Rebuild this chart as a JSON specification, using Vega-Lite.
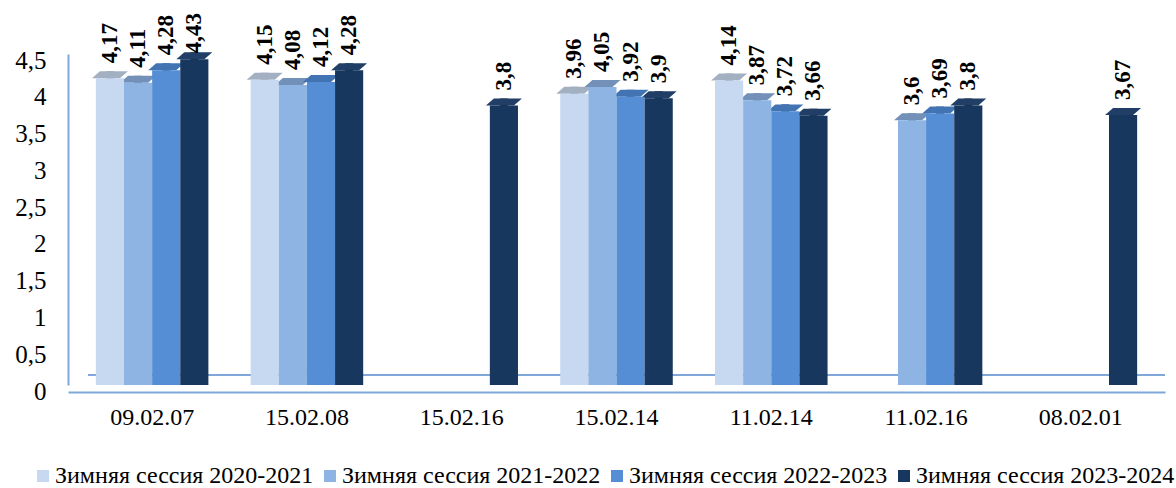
{
  "$schema": "https://vega.github.io/schema/vega-lite/v6.json",
  "width": 1097,
  "height": 331,
  "autosize": {"type": "none"},
  "padding": {"left": 68, "top": 54, "right": 11, "bottom": 103},
  "background": "white",
  "config": {
    "locale": {"number": {"decimal": ",", "thousands": " ", "grouping": [3], "currency": ["", ""]}},
    "view": {"stroke": null},
    "font": "Liberation Serif"
  },
  "data": {
    "values": [
      {"code": "09.02.07", "session": "Зимняя сессия 2020-2021", "score": 4.17},
      {"code": "09.02.07", "session": "Зимняя сессия 2021-2022", "score": 4.11},
      {"code": "09.02.07", "session": "Зимняя сессия 2022-2023", "score": 4.28},
      {"code": "09.02.07", "session": "Зимняя сессия 2023-2024", "score": 4.43},
      {"code": "15.02.08", "session": "Зимняя сессия 2020-2021", "score": 4.15},
      {"code": "15.02.08", "session": "Зимняя сессия 2021-2022", "score": 4.08},
      {"code": "15.02.08", "session": "Зимняя сессия 2022-2023", "score": 4.12},
      {"code": "15.02.08", "session": "Зимняя сессия 2023-2024", "score": 4.28},
      {"code": "15.02.16", "session": "Зимняя сессия 2023-2024", "score": 3.8},
      {"code": "15.02.14", "session": "Зимняя сессия 2020-2021", "score": 3.96},
      {"code": "15.02.14", "session": "Зимняя сессия 2021-2022", "score": 4.05},
      {"code": "15.02.14", "session": "Зимняя сессия 2022-2023", "score": 3.92},
      {"code": "15.02.14", "session": "Зимняя сессия 2023-2024", "score": 3.9},
      {"code": "11.02.14", "session": "Зимняя сессия 2020-2021", "score": 4.14},
      {"code": "11.02.14", "session": "Зимняя сессия 2021-2022", "score": 3.87},
      {"code": "11.02.14", "session": "Зимняя сессия 2022-2023", "score": 3.72},
      {"code": "11.02.14", "session": "Зимняя сессия 2023-2024", "score": 3.66},
      {"code": "11.02.16", "session": "Зимняя сессия 2021-2022", "score": 3.6},
      {"code": "11.02.16", "session": "Зимняя сессия 2022-2023", "score": 3.69},
      {"code": "11.02.16", "session": "Зимняя сессия 2023-2024", "score": 3.8},
      {"code": "08.02.01", "session": "Зимняя сессия 2023-2024", "score": 3.67}
    ]
  },
  "encoding": {
    "x": {
      "field": "code",
      "type": "nominal",
      "sort": ["09.02.07", "15.02.08", "15.02.16", "15.02.14", "11.02.14", "11.02.16", "08.02.01"],
      "scale": {"paddingInner": 0.273, "paddingOuter": 0.18},
      "axis": {
        "title": null,
        "labelAngle": 0,
        "labelFont": "Liberation Serif",
        "labelFontSize": 24,
        "labelColor": "#000000",
        "labelPadding": 13,
        "ticks": false,
        "offset": 7,
        "domainColor": "#7fa7da",
        "domainWidth": 2
      }
    },
    "xOffset": {
      "field": "session",
      "type": "nominal",
      "scale": {"domain": ["Зимняя сессия 2020-2021", "Зимняя сессия 2021-2022", "Зимняя сессия 2022-2023", "Зимняя сессия 2023-2024"]}
    },
    "y": {
      "field": "score",
      "type": "quantitative",
      "scale": {"domain": [0, 4.5], "nice": false},
      "axis": {
        "title": null,
        "values": [0, 0.5, 1, 1.5, 2, 2.5, 3, 3.5, 4, 4.5],
        "format": "~g",
        "grid": false,
        "ticks": false,
        "labelFont": "Liberation Serif",
        "labelFontSize": 25,
        "labelColor": "#000000",
        "labelPadding": 22,
        "labelOffset": 6,
        "domainColor": "#7fa7da",
        "domainWidth": 2
      }
    }
  },
  "layer": [
    {
      "description": "back edge of the floor",
      "mark": {"type": "rule", "color": "#7fa7da", "strokeWidth": 2, "yOffset": -10},
      "encoding": {"x": {"value": 20}, "x2": {"value": 1097}, "y": {"datum": 0}, "xOffset": null}
    },
    {
      "description": "right-hand side faces of the bars",
      "mark": {"type": "bar", "width": 8, "xOffset": 18, "yOffset": -7, "y2Offset": -4},
      "encoding": {
        "y2": {"datum": 0},
        "fill": {
          "field": "session",
          "type": "nominal",
          "scale": {
            "domain": ["Зимняя сессия 2020-2021", "Зимняя сессия 2021-2022", "Зимняя сессия 2022-2023", "Зимняя сессия 2023-2024"],
            "range": ["#8e9aab", "#5d7ba3", "#35609a", "#0f2139"]
          },
          "legend": null
        }
      }
    },
    {
      "description": "top faces of the bars",
      "mark": {
        "type": "point",
        "filled": true,
        "opacity": 1,
        "size": 1296,
        "shape": "M-1,0.194L0.556,0.194L1,-0.194L-0.556,-0.194Z",
        "xOffset": 4,
        "yOffset": -3.5
      },
      "encoding": {
        "fill": {
          "field": "session",
          "type": "nominal",
          "scale": {
            "domain": ["Зимняя сессия 2020-2021", "Зимняя сессия 2021-2022", "Зимняя сессия 2022-2023", "Зимняя сессия 2023-2024"],
            "range": ["#a3b0c2", "#7290b8", "#4274b3", "#213f66"]
          },
          "legend": null
        }
      }
    },
    {
      "description": "front faces of the bars",
      "mark": {"type": "bar"},
      "encoding": {
        "color": {
          "field": "session",
          "type": "nominal",
          "scale": {
            "domain": ["Зимняя сессия 2020-2021", "Зимняя сессия 2021-2022", "Зимняя сессия 2022-2023", "Зимняя сессия 2023-2024"],
            "range": ["#c6d9f1", "#8db4e2", "#558ed5", "#17375e"]
          },
          "legend": {
            "title": null,
            "orient": "none",
            "legendX": -37,
            "legendY": 410,
            "direction": "horizontal",
            "symbolType": "square",
            "symbolSize": 144,
            "symbolStrokeWidth": 0,
            "labelFont": "Liberation Serif",
            "labelFontSize": 24,
            "labelColor": "#000000",
            "labelOffset": 0,
            "columnPadding": 4,
            "labelLimit": 400
          }
        }
      }
    },
    {
      "description": "value labels",
      "transform": [{"filter": "datum.score <= 4.4"}],
      "mark": {
        "type": "text",
        "angle": 270,
        "align": "left",
        "baseline": "middle",
        "dx": 15,
        "font": "Liberation Serif",
        "fontSize": 23,
        "fontWeight": "bold",
        "color": "#000000"
      },
      "encoding": {
        "text": {"field": "score", "type": "quantitative", "format": "~g"}
      }
    },
    {
      "description": "value labels near the top edge, kept inside the chart",
      "transform": [{"filter": "datum.score > 4.4"}],
      "mark": {
        "type": "text",
        "angle": 270,
        "align": "left",
        "baseline": "middle",
        "dx": 6,
        "font": "Liberation Serif",
        "fontSize": 23,
        "fontWeight": "bold",
        "color": "#000000"
      },
      "encoding": {
        "text": {"field": "score", "type": "quantitative", "format": "~g"}
      }
    }
  ],
  "resolve": {"scale": {"fill": "independent"}}
}
